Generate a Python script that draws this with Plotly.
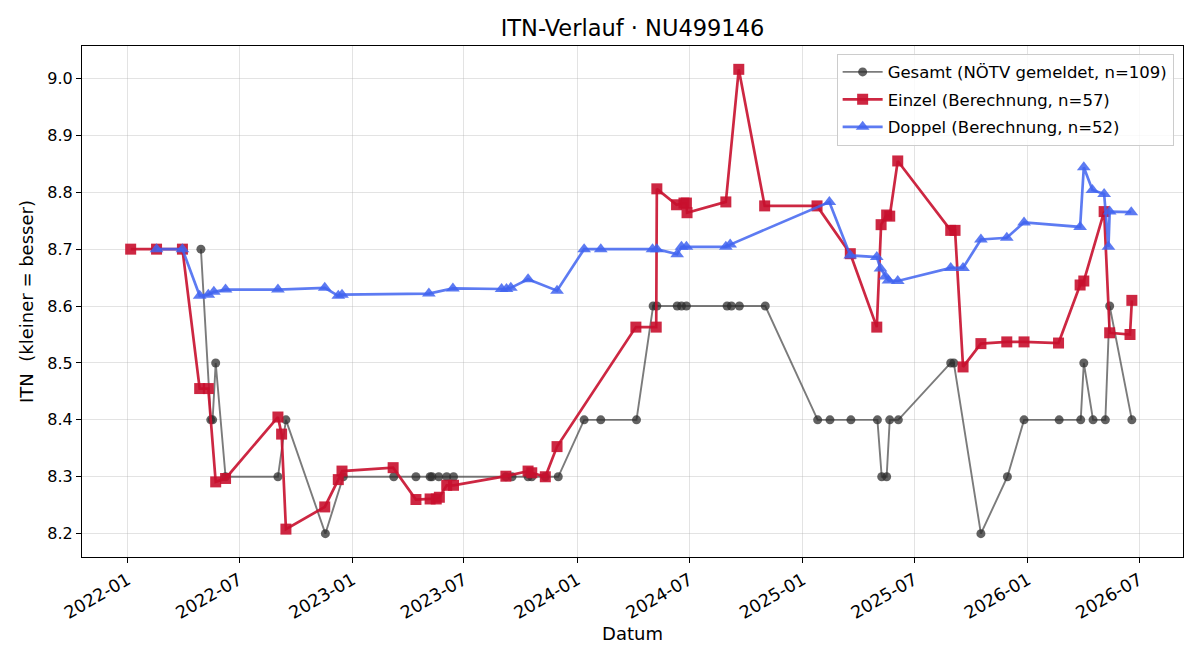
import plotly.graph_objects as go

# ---- Data ----
gesamt_dates = [
    "2022-04-30", "2022-05-16", "2022-05-19", "2022-05-24", "2022-06-09", "2022-09-02",
    "2022-09-15", "2022-11-18", "2022-12-17", "2023-03-09", "2023-04-14", "2023-05-07",
    "2023-05-10", "2023-05-21", "2023-06-03", "2023-06-14", "2023-09-07", "2023-09-17",
    "2023-10-13", "2023-10-19", "2023-11-10", "2023-12-01", "2024-01-12", "2024-02-08",
    "2024-04-06", "2024-05-03", "2024-05-09", "2024-06-11", "2024-06-18", "2024-06-26",
    "2024-08-31", "2024-09-07", "2024-09-20", "2024-11-01", "2025-01-25", "2025-02-14",
    "2025-03-20", "2025-05-02", "2025-05-09", "2025-05-17", "2025-05-22", "2025-06-05",
    "2025-08-29", "2025-09-03", "2025-10-17", "2025-11-29", "2025-12-26", "2026-02-21",
    "2026-03-28", "2026-04-02", "2026-04-17", "2026-05-07", "2026-05-14", "2026-06-19",
]
gesamt_values = [
    8.7, 8.4, 8.4, 8.5, 8.3, 8.3,
    8.4, 8.2, 8.3, 8.3, 8.3, 8.3,
    8.3, 8.3, 8.3, 8.3, 8.3, 8.3,
    8.3, 8.3, 8.3, 8.3, 8.4, 8.4,
    8.4, 8.6, 8.6, 8.6, 8.6, 8.6,
    8.6, 8.6, 8.6, 8.6, 8.4, 8.4,
    8.4, 8.4, 8.3, 8.3, 8.4, 8.4,
    8.5, 8.5, 8.2, 8.3, 8.4, 8.4,
    8.4, 8.5, 8.4, 8.4, 8.6, 8.4,
]

einzel_dates = [
    "2022-01-06", "2022-02-17", "2022-03-31", "2022-04-28", "2022-05-12", "2022-05-24",
    "2022-06-09", "2022-09-02", "2022-09-08", "2022-09-15", "2022-11-17", "2022-12-09",
    "2022-12-15", "2023-03-08", "2023-04-14", "2023-05-07", "2023-05-17", "2023-05-22",
    "2023-06-03", "2023-06-14", "2023-09-07", "2023-10-13", "2023-10-19", "2023-11-10",
    "2023-11-29", "2024-04-05", "2024-05-08", "2024-05-09", "2024-06-10", "2024-06-22",
    "2024-06-26", "2024-06-27", "2024-08-29", "2024-09-19", "2024-10-31", "2025-01-24",
    "2025-03-19", "2025-05-01", "2025-05-08", "2025-05-17", "2025-05-22", "2025-06-04",
    "2025-08-29", "2025-09-05", "2025-09-18", "2025-10-17", "2025-11-28", "2025-12-26",
    "2026-02-20", "2026-03-27", "2026-04-02", "2026-05-05", "2026-05-14", "2026-06-16",
    "2026-06-19",
]
einzel_values = [
    8.700, 8.700, 8.700, 8.455, 8.455, 8.291,
    8.297, 8.405, 8.375, 8.208, 8.247, 8.295,
    8.310, 8.316, 8.260, 8.261, 8.261, 8.264,
    8.285, 8.285, 8.301, 8.310, 8.307, 8.300,
    8.353, 8.563, 8.563, 8.806, 8.778, 8.781,
    8.781, 8.764, 8.783, 9.016, 8.776, 8.776,
    8.692, 8.563, 8.743, 8.760, 8.758, 8.855,
    8.733, 8.733, 8.493, 8.534, 8.537, 8.537,
    8.535, 8.637, 8.644, 8.766, 8.553, 8.550,
    8.610,
]

doppel_dates = [
    "2022-02-17", "2022-03-31", "2022-04-28", "2022-05-12", "2022-05-21", "2022-06-09",
    "2022-09-02", "2022-11-17", "2022-12-09", "2022-12-15", "2023-05-05", "2023-06-13",
    "2023-08-31", "2023-09-08", "2023-09-15", "2023-10-13", "2023-11-29", "2024-01-12",
    "2024-02-08", "2024-05-02", "2024-05-09", "2024-06-11", "2024-06-18", "2024-06-26",
    "2024-08-29", "2024-09-05", "2025-02-13", "2025-03-19", "2025-05-01", "2025-05-07",
    "2025-05-15", "2025-05-20", "2025-06-04", "2025-08-29", "2025-09-18", "2025-10-17",
    "2025-11-28", "2025-12-26", "2026-03-27", "2026-04-02", "2026-04-16", "2026-05-05",
    "2026-05-12", "2026-05-14", "2026-06-18",
]
doppel_values = [
    8.700, 8.700, 8.618, 8.620, 8.625, 8.629,
    8.629, 8.632, 8.618, 8.620, 8.622, 8.631,
    8.630, 8.630, 8.632, 8.647, 8.627, 8.700,
    8.700, 8.700, 8.700, 8.691, 8.704, 8.704,
    8.704, 8.708, 8.783, 8.689, 8.686, 8.666,
    8.652, 8.645, 8.644, 8.667, 8.667, 8.717,
    8.720, 8.747, 8.739, 8.844, 8.804, 8.797,
    8.704, 8.766, 8.765,
]

title_text = "ITN-Verlauf · NU499146"
legend_names = [
    "Gesamt (NÖTV gemeldet, n=109)",
    "Einzel (Berechnung, n=57)",
    "Doppel (Berechnung, n=52)",
]
y_ticks = [8.2, 8.3, 8.4, 8.5, 8.6, 8.7, 8.8, 8.9, 9.0]

# ---- Figure ----
fig = go.Figure()
fig.add_trace(go.Scatter(
    x=gesamt_dates, y=gesamt_values, mode="lines+markers", name=legend_names[0],
    legendgroup="g1",
    line=dict(color="rgba(60,60,60,0.68)", width=1.9),
    marker=dict(symbol="circle", size=9, color="rgba(45,45,45,0.75)"),
))
fig.add_trace(go.Scatter(
    x=einzel_dates, y=einzel_values, mode="lines+markers", name=legend_names[1],
    legendgroup="g2",
    line=dict(color="rgba(200,16,46,0.9)", width=2.7),
    marker=dict(symbol="square", size=11, color="rgba(200,16,46,0.9)"),
))
fig.add_trace(go.Scatter(
    x=doppel_dates, y=doppel_values, mode="lines+markers", name=legend_names[2],
    legendgroup="g3",
    line=dict(color="rgba(65,100,240,0.85)", width=2.7),
    marker=dict(symbol="triangle-up", size=12, color="rgba(65,100,240,0.85)"),
))

axis_common = dict(
    showline=True, linecolor="black", linewidth=1.2, mirror=True,
    ticks="outside", ticklen=5, tickwidth=1, tickcolor="black",
    showgrid=True, gridcolor="rgba(176,176,176,0.35)", gridwidth=1,
    zeroline=False,
)

fig.update_layout(
    width=1200, height=660,
    paper_bgcolor="white", plot_bgcolor="white",
    margin=dict(l=82, r=17, t=46, b=103),
    title=dict(text=title_text, xref="paper", x=0.5, xanchor="center",
               y=0.958, yanchor="middle",
               font=dict(family="DejaVu Sans", size=22.5, color="black")),
    font=dict(family="DejaVu Sans", color="black"),
    legend=dict(
        x=0.9915, y=0.985, xanchor="right", yanchor="top",
        bgcolor="rgba(255,255,255,0.8)", bordercolor="#cccccc", borderwidth=1,
        font=dict(family="DejaVu Sans", size=16.5, color="black"),
        tracegroupgap=3, itemwidth=40,
    ),
    xaxis=dict(
        **axis_common,
        type="date",
        range=["2021-10-19", "2026-09-10"],
        tick0="2022-01-01", dtick="M6", tickformat="%Y-%m", tickangle=-30,
        tickfont=dict(family="DejaVu Sans", size=17.5, color="black"),
        title=dict(text="Datum", font=dict(family="DejaVu Sans", size=18), standoff=2),
    ),
    yaxis=dict(
        **axis_common,
        range=[8.159, 9.057],
        tickvals=y_ticks, tickformat=".1f",
        tickfont=dict(family="DejaVu Sans", size=16, color="black"),
        title=dict(text="ITN  (kleiner = besser)", font=dict(family="DejaVu Sans", size=18), standoff=8),
    ),
)

fig.write_html(
    "out.html",
    config={"displayModeBar": False},
    post_script="document.body.style.margin='0';document.body.style.overflow='hidden';",
)
